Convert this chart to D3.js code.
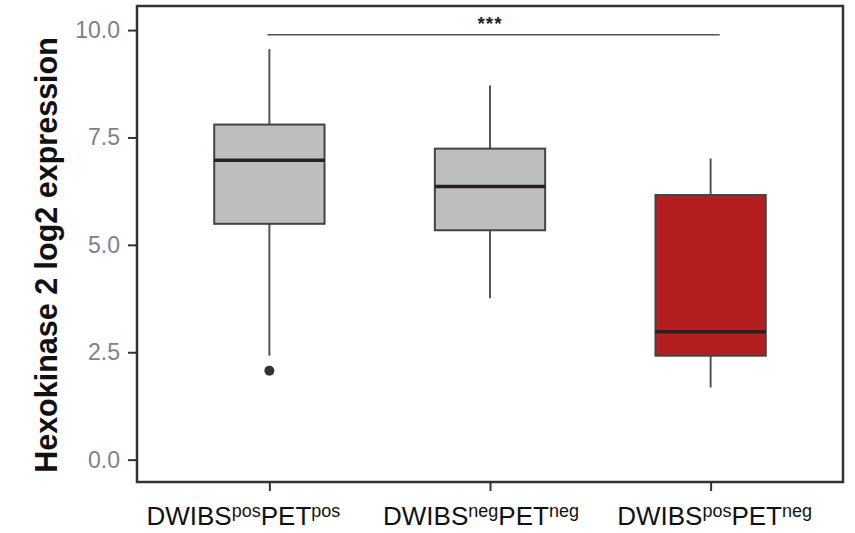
<!DOCTYPE html>
<html>
<head>
<meta charset="utf-8">
<script src="https://cdn.jsdelivr.net/npm/d3@7"></script>
<style>
    body { margin: 0; background: #fff; }
    svg { display: block; font-family: "Liberation Sans", Arial, sans-serif; }
</style>
</head>
<body>
<div id="chart"></div>
<script>
// groups (main label + superscripts)
const groups = ["pospos", "negneg", "posneg"];
const labelParts = [
    ["DWIBS", "pos", "PET", "pos"],
    ["DWIBS", "neg", "PET", "neg"],
    ["DWIBS", "pos", "PET", "neg"]
];
// box stats
const whiskerLow = [2.42, 3.76, 1.68];
const q1 = [5.49, 5.34, 2.42];
const median = [6.97, 6.36, 2.98];
const q3 = [7.80, 7.24, 6.16];
const whiskerHigh = [9.56, 8.71, 7.01];
const outliers = [[2.07], [], []];
const fills = ["#bebebe", "#bebebe", "#b31f1f"];
const yTicks = [0, 2.5, 5, 7.5, 10];
const sigLevel = 9.89;
const sigLabel = "***";

const width = 855, height = 533;
const margin = { top: 6, right: 12, bottom: 51, left: 137 };

const svg = d3.select("#chart").append("svg")
    .attr("width", width)
    .attr("height", height);

const x = d3.scalePoint()
    .domain(groups)
    .range([margin.left, width - margin.right])
    .padding(0.6);

const y = d3.scaleLinear()
    .domain([-0.52, 10.56])
    .range([height - margin.bottom, margin.top]);

const boxW = x.step() * 0.5;

const data = groups.map((g, i) => ({
    g, lo: whiskerLow[i], q1: q1[i], med: median[i], q3: q3[i],
    hi: whiskerHigh[i], out: outliers[i], fill: fills[i]
}));

// y axis
const yAxis = svg.append("g")
    .attr("transform", `translate(${margin.left},0)`)
    .call(d3.axisLeft(y).tickValues(yTicks).tickFormat(d3.format(".1f")).tickSize(9).tickPadding(8));
yAxis.select(".domain").remove();
yAxis.selectAll(".tick line").attr("stroke", "#333").attr("stroke-width", 2);
yAxis.selectAll(".tick text")
    .attr("fill", "#7c8094")
    .style("font-size", "23px");

// x axis ticks
const xAxis = svg.append("g")
    .attr("transform", `translate(0,${height - margin.bottom})`)
    .call(d3.axisBottom(x).tickSize(9).tickFormat(""));
xAxis.select(".domain").remove();
xAxis.selectAll(".tick line").attr("stroke", "#333").attr("stroke-width", 2);

// x labels with superscripts
const labelNudge = [-26, -9, 4];
const lab = svg.append("g").selectAll("text")
    .data(groups)
    .join("text")
    .attr("x", (d, i) => x(d) + labelNudge[i])
    .attr("y", height - 8)
    .attr("text-anchor", "middle")
    .attr("fill", "#111")
    .style("font-size", "26px");
lab.each(function(d, i) {
    const t = d3.select(this);
    labelParts[i].forEach((p, k) => {
        const sup = k % 2 === 1;
        t.append("tspan")
            .attr("dy", sup ? -8 : (k === 0 ? 0 : 8))
            .style("font-size", sup ? "18px" : "26px")
            .text(p);
    });
});

// y title
svg.append("text")
    .attr("transform", `translate(57,${(margin.top + height - margin.bottom) / 2 + 11}) rotate(-90)`)
    .attr("text-anchor", "middle")
    .attr("font-weight", "bold")
    .attr("fill", "#111")
    .style("font-size", "30.5px")
    .text("Hexokinase 2 log2 expression");

// boxes
const box = svg.append("g").selectAll("g")
    .data(data)
    .join("g");

box.append("line")
    .attr("x1", d => x(d.g)).attr("x2", d => x(d.g))
    .attr("y1", d => y(d.hi)).attr("y2", d => y(d.q3))
    .attr("stroke", "#555").attr("stroke-width", 2);
box.append("line")
    .attr("x1", d => x(d.g)).attr("x2", d => x(d.g))
    .attr("y1", d => y(d.q1)).attr("y2", d => y(d.lo))
    .attr("stroke", "#555").attr("stroke-width", 2);
box.append("rect")
    .attr("x", d => x(d.g) - boxW / 2)
    .attr("width", boxW)
    .attr("y", d => y(d.q3))
    .attr("height", d => y(d.q1) - y(d.q3))
    .attr("fill", d => d.fill)
    .attr("stroke", "#444")
    .attr("stroke-width", 2);
box.append("line")
    .attr("x1", d => x(d.g) - boxW / 2).attr("x2", d => x(d.g) + boxW / 2)
    .attr("y1", d => y(d.med)).attr("y2", d => y(d.med))
    .attr("stroke", "#2b2020").attr("stroke-width", 3.5);
box.selectAll("circle")
    .data(d => d.out.map(v => ({ g: d.g, v })))
    .join("circle")
    .attr("cx", d => x(d.g))
    .attr("cy", d => y(d.v))
    .attr("r", 5)
    .attr("fill", "#333");

// significance bracket
svg.append("line")
    .attr("x1", x(groups[0]) - 2).attr("x2", x(groups[2]) + 9)
    .attr("y1", y(sigLevel)).attr("y2", y(sigLevel))
    .attr("stroke", "#555").attr("stroke-width", 1.5);
svg.append("text")
    .attr("x", (x(groups[0]) + x(groups[2])) / 2)
    .attr("y", y(sigLevel) - 5)
    .attr("text-anchor", "middle")
    .attr("fill", "#222")
    .attr("letter-spacing", "1px")
    .style("font-size", "19px")
    .style("font-weight", "bold")
    .text(sigLabel);

// panel border
svg.append("rect")
    .attr("x", margin.left)
    .attr("y", margin.top)
    .attr("width", width - margin.left - margin.right)
    .attr("height", height - margin.top - margin.bottom)
    .attr("fill", "none")
    .attr("stroke", "#333")
    .attr("stroke-width", 2.5);
</script>
</body>
</html>
